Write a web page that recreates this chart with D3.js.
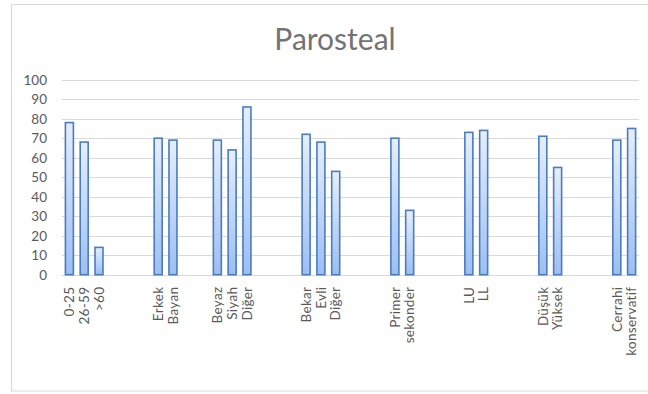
<!DOCTYPE html>
<html>
<head>
<meta charset="utf-8">
<script src="https://cdn.jsdelivr.net/npm/d3@7"></script>
<style>
  html, body { margin: 0; padding: 0; background: #fff; }
  svg { display: block; }
  text { font-family: Lato, "Open Sans", sans-serif; fill: #595959; }
</style>
</head>
<body>
<svg id="chart" width="648" height="394"></svg>
<script>
// Category labels along the x axis; empty strings are spacer slots between groups
const categories = ["0-25", "26-59", ">60", "", "", "",
  "Erkek", "Bayan", "", "",
  "Beyaz", "Siyah", "Diğer", "", "", "",
  "Bekar", "Evli", "Diğer", "", "", "",
  "Primer", "sekonder", "", "", "",
  "LU", "LL", "", "", "",
  "Düşük", "Yüksek", "", "", "",
  "Cerrahi", "konservatif"];
// Values per category slot (null = no bar)
const values = [78, 68, 14, null, null, null,
  70, 69, null, null,
  69, 64, 86, null, null, null,
  72, 68, 53, null, null, null,
  70, 33, null, null, null,
  73, 74, null, null, null,
  71, 55, null, null, null,
  69, 75];
const yTicks = [0, 10, 20, 30, 40, 50, 60, 70, 80, 90, 100];
const title = "Parosteal";

const svg = d3.select("#chart");
const margin = { left: 62, right: 9, top: 79.7, bottom: 119.3 };
const W = 648, H = 394;

// Chart area frame
svg.append("rect")
  .attr("x", 11.5).attr("y", 4.5)
  .attr("width", 660).attr("height", 386.5)
  .attr("fill", "#fff").attr("stroke", "#d9d9d9").attr("stroke-width", 1);

const x = d3.scaleBand()
  .domain(d3.range(categories.length))
  .range([margin.left, W - margin.right])
  .paddingInner(0.46).paddingOuter(0.23);

const y = d3.scaleLinear()
  .domain([0, 100])
  .range([H - margin.bottom, margin.top]);

// Horizontal gridlines
svg.append("g")
  .selectAll("line")
  .data(yTicks)
  .join("line")
  .attr("x1", margin.left).attr("x2", W - margin.right)
  .attr("y1", d => Math.round(y(d)) + 0.5).attr("y2", d => Math.round(y(d)) + 0.5)
  .attr("stroke", "#d9d9d9").attr("stroke-width", 1);

// Y axis labels
const yAxis = d3.axisLeft(y).tickValues(yTicks).tickSize(0).tickPadding(0);
const yg = svg.append("g")
  .attr("transform", `translate(${margin.left - 15},0)`)
  .call(yAxis);
yg.select(".domain").remove();
yg.selectAll("text")
  .style("font-size", "13.5px")
  .style("font-family", "Lato, sans-serif")
  .attr("fill", "#666666");

// Bar fill gradient
const defs = svg.append("defs");
const grad = defs.append("linearGradient")
  .attr("id", "barFill").attr("x1", 0).attr("y1", 0).attr("x2", 0).attr("y2", 1);
grad.append("stop").attr("offset", "0%").attr("stop-color", "#e6eefb");
grad.append("stop").attr("offset", "100%").attr("stop-color", "#9cbff2");

const barData = values.map((v, i) => ({ i, v })).filter(d => d.v != null);

svg.append("g")
  .selectAll("rect")
  .data(barData)
  .join("rect")
  .attr("x", d => x(d.i))
  .attr("y", d => y(d.v))
  .attr("width", x.bandwidth())
  .attr("height", d => y(0) - y(d.v))
  .attr("fill", "url(#barFill)")
  .attr("stroke", "#4a7cc0")
  .attr("stroke-width", 1.6);

// X axis category labels, rotated
const xAxis = d3.axisBottom(x).tickSize(0).tickPadding(0).tickFormat(i => categories[i]);
const xg = svg.append("g")
  .attr("transform", `translate(0,${H - margin.bottom})`)
  .call(xAxis);
xg.select(".domain").remove();
xg.selectAll("text")
  .attr("transform", "rotate(-90)")
  .attr("x", -12)
  .attr("y", 0)
  .attr("dy", "0.35em")
  .style("text-anchor", "end")
  .style("font-size", "13.5px")
  .style("font-family", "Lato, sans-serif")
  .style("letter-spacing", "0.3px")
  .attr("fill", "#666666");

// Title
svg.append("text")
  .attr("x", 335)
  .attr("y", 50)
  .attr("text-anchor", "middle")
  .style("font-size", "30px")
  .attr("fill", "#737373")
  .style("fill", "#737373")
  .text(title);
</script>
</body>
</html>
